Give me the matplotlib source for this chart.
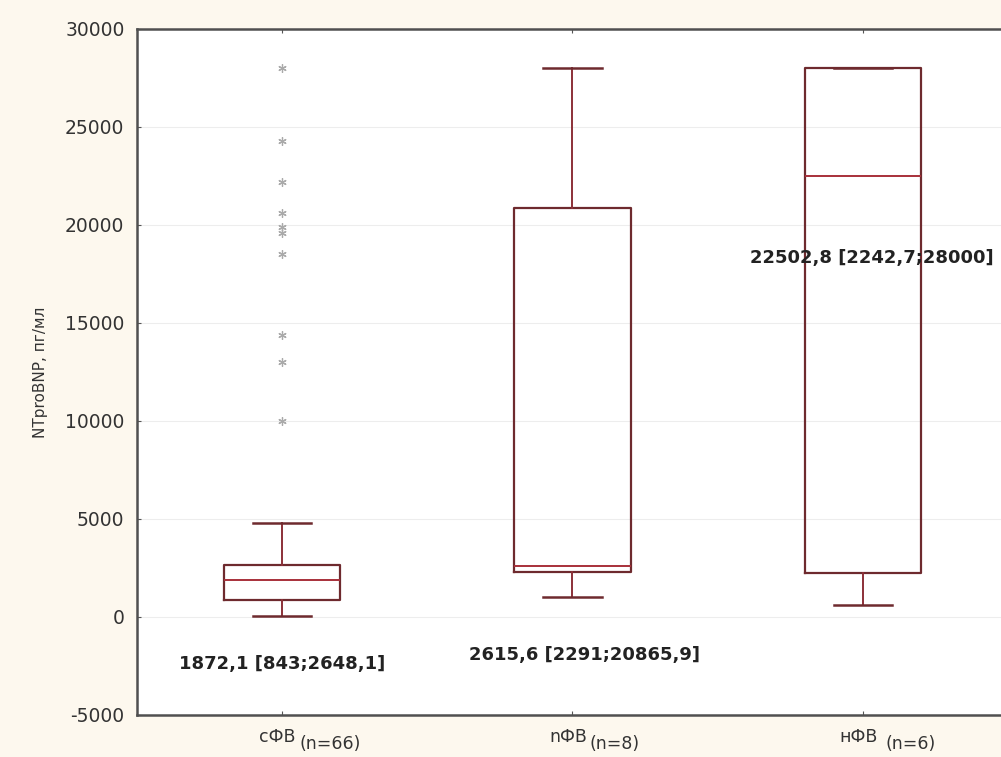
"Box plots of NTproBNP levels by group."
import matplotlib
matplotlib.use("Agg")
import matplotlib.pyplot as plt
from matplotlib.transforms import offset_copy

groups = ["cФB", "nФB", "нФB"]
group_n = ["(n=66)", "(n=8)", "(n=6)"]
medians = [1872.1, 2615.6, 22502.8]
q1s = [843, 2291, 2242.7]
q3s = [2648.1, 20865.9, 28000]
whis_lo = [50, 1000, 600]
whis_hi = [4800, 28000, 28000]
outliers_1 = [28000, 24300, 22200, 20600, 19900, 19600, 18500, 14400, 13000, 10000]
notes = ["1872,1 [843;2648,1]", "2615,6 [2291;20865,9]", "22502,8 [2242,7;28000]"]
note_x = [1.0, 2.04, 3.03]
note_y = [-2400, -1950, 18300]

plt.rcParams['font.family'] = ['DejaVu Sans']
plt.rcParams['axes.unicode_minus'] = False

fig = plt.figure(figsize=(10.01, 7.57), dpi=100, facecolor="#fdf8ee")
ax = fig.add_axes([137 / 1001, 1 - 715 / 757, (1008 - 137) / 1001, (715 - 29) / 757])
ax.set_facecolor("white")

stats = []
for i in range(len(groups)):
    stats.append({
        "med": medians[i], "q1": q1s[i], "q3": q3s[i],
        "whislo": whis_lo[i], "whishi": whis_hi[i],
        "fliers": outliers_1 if i == 0 else [],
    })

edge = "#6e2a2e"
ax.bxp(stats, positions=[1, 2, 3], widths=0.4, capwidths=0.2,
       boxprops=dict(color=edge, linewidth=1.6),
       medianprops=dict(color="#a8303a", linewidth=1.4),
       whiskerprops=dict(color="#8c3038", linewidth=1.4),
       capprops=dict(color=edge, linewidth=1.8),
       flierprops=dict(marker=(6, 2, 0), markersize=6, markeredgecolor="#aaaaaa",
                       markerfacecolor="none", linestyle="none", markeredgewidth=0.9))

ax.set_xlim(0.5, 3.5)
ax.set_ylim(-5000, 30000)
ax.set_yticks(range(-5000, 30001, 5000))
ax.set_xticks([1, 2, 3])
ax.set_xticklabels([])
ax.grid(axis="y", color="#ededed", linewidth=0.8)
ax.set_axisbelow(True)

for s in ["left", "bottom", "top"]:
    ax.spines[s].set_color("#505050")
    ax.spines[s].set_linewidth(1.8)
ax.spines["right"].set_visible(False)
ax.tick_params(axis="both", direction="in", length=3, color="#555555",
               top=True, labelsize=13.5, labelcolor="#333333")
ax.tick_params(axis="y", pad=9)

ax.set_ylabel("NTproBNP, пг/мл", fontsize=11, color="#333333", labelpad=12)

# group names with subscripted n
tr = ax.get_xaxis_transform()
for i, (g, n) in enumerate(zip(groups, group_n)):
    ax.text(i + 1, 0, g, transform=offset_copy(tr, fig=fig, x=-23, y=-13, units="dots"),
            ha="left", va="top", fontsize=12.5, color="#333333")
    ax.text(i + 1, 0, n, transform=offset_copy(tr, fig=fig, x=17 + (6 if i == 2 else 0), y=-20, units="dots"),
            ha="left", va="top", fontsize=12.5, color="#333333")

for x, y, t in zip(note_x, note_y, notes):
    ax.text(x, y, t, ha="center", va="center", fontsize=13, fontweight="bold", color="#222222")

fig.savefig("out.png", dpi=100, facecolor=fig.get_facecolor())
